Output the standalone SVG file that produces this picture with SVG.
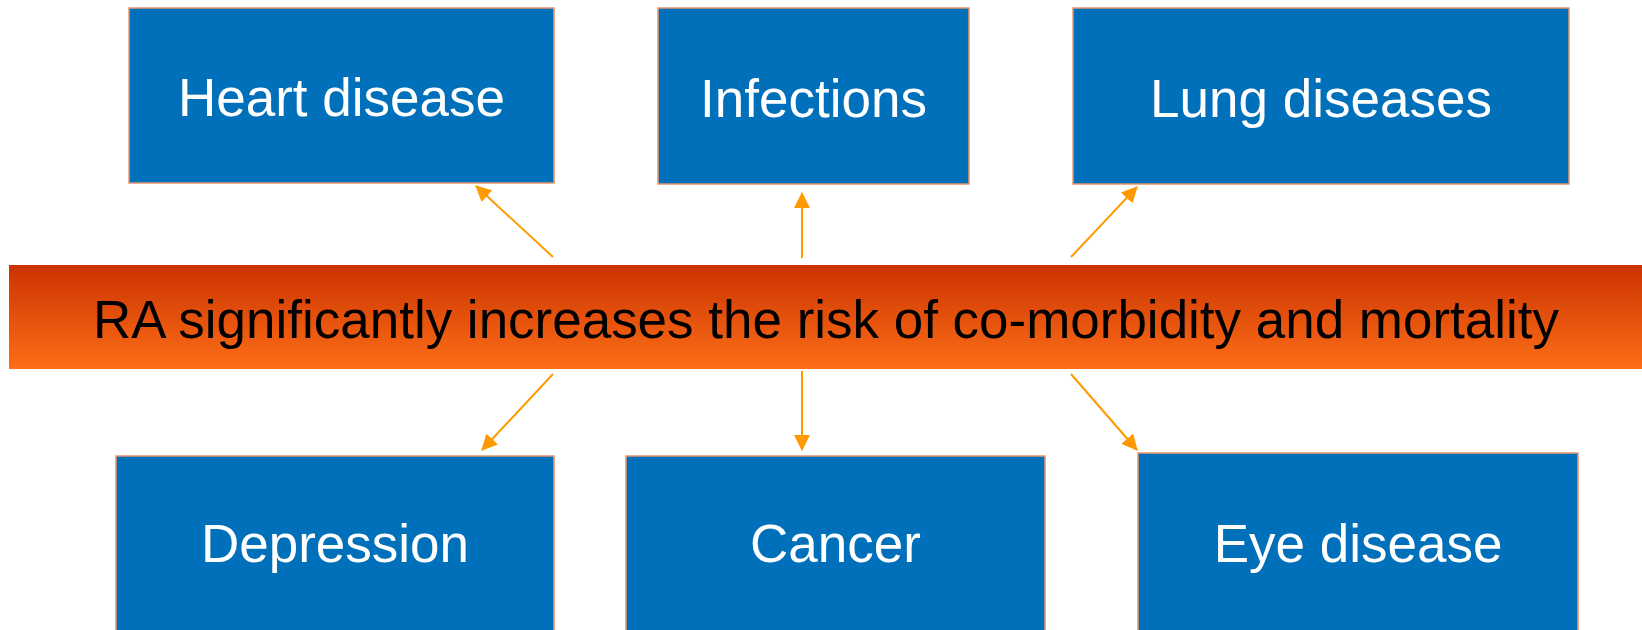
<svg xmlns="http://www.w3.org/2000/svg" width="1642" height="630" viewBox="0 0 1642 630">
<defs>
<linearGradient id="bannerGrad" x1="0" y1="0" x2="0" y2="1">
<stop offset="0" stop-color="#CB3300"/>
<stop offset="1" stop-color="#FC6E18"/>
</linearGradient>
<marker id="arrow" viewBox="0 0 16 16" refX="15" refY="8" markerWidth="16" markerHeight="16" markerUnits="userSpaceOnUse" orient="auto">
<path d="M0,0 L16,8 L0,16 Z" fill="#FF9900"/>
</marker>
</defs>
<style>
.box{fill:#0070BA;stroke:#E8956B;stroke-width:1.5}
.lbl{font-family:"Liberation Sans",Arial,sans-serif;font-size:53px;fill:#FFFFFF;text-anchor:middle}
.conn{stroke:#FF9900;stroke-width:2;fill:none;marker-end:url(#arrow)}
</style>
<rect width="1642" height="630" fill="#FFFFFF"/>
<g id="banner">
<rect x="9" y="265" width="1633" height="104" fill="url(#bannerGrad)"/>
<text x="826" y="338" font-family="Liberation Sans, Arial, sans-serif" font-size="53" fill="#000000" text-anchor="middle" textLength="1466" lengthAdjust="spacingAndGlyphs">RA significantly increases the risk of co-morbidity and mortality</text>
</g>
<g id="heart">
<rect class="box" x="129" y="8" width="425" height="175"/>
<text class="lbl" x="341.5" y="116">Heart disease</text>
</g>
<g id="infections">
<rect class="box" x="658" y="8" width="311" height="176"/>
<text class="lbl" x="813.5" y="117">Infections</text>
</g>
<g id="lung">
<rect class="box" x="1073" y="8" width="496" height="176"/>
<text class="lbl" x="1321" y="117">Lung diseases</text>
</g>
<g id="depression">
<rect class="box" x="116" y="456" width="438" height="180"/>
<text class="lbl" x="335" y="562">Depression</text>
</g>
<g id="cancer">
<rect class="box" x="626" y="456" width="419" height="180"/>
<text class="lbl" x="835.5" y="562">Cancer</text>
</g>
<g id="eye">
<rect class="box" x="1138" y="453" width="440" height="183"/>
<text class="lbl" x="1358" y="562">Eye disease</text>
</g>
<g id="connectors">
<line class="conn" x1="553" y1="257" x2="476" y2="186"/>
<line class="conn" x1="802" y1="258" x2="802" y2="193"/>
<line class="conn" x1="1071" y1="257" x2="1137" y2="187"/>
<line class="conn" x1="553" y1="374" x2="482" y2="450"/>
<line class="conn" x1="802" y1="371" x2="802" y2="450"/>
<line class="conn" x1="1071" y1="374" x2="1137" y2="450"/>
</g>
</svg>
